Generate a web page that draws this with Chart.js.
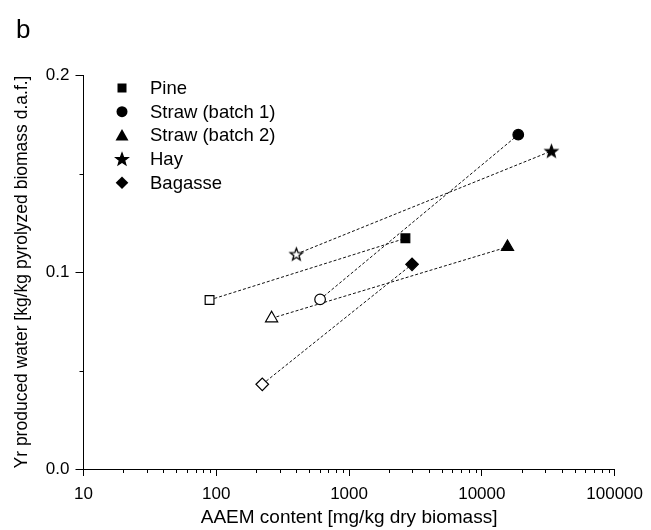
<!DOCTYPE html>
<html><head><meta charset="utf-8">
<script src="https://cdn.jsdelivr.net/npm/chart.js@4/dist/chart.umd.min.js"></script>
<style>html,body{margin:0;padding:0;background:#fff}#wrap{width:651px;height:530px}</style>
</head><body><div id="wrap"><canvas id="c" width="651" height="530"></canvas></div>
<script>
// ---- data ----
const materials = ['Pine', 'Straw (batch 1)', 'Straw (batch 2)', 'Hay', 'Bagasse'];
// open symbols (low AAEM)
const xOpen   = [89, 605, 261, 401, 222];
const yOpen   = [0.0858, 0.0861, 0.0765, 0.1091, 0.0430];
// filled symbols (high AAEM)
const xFilled = [2656, 18800, 15600, 33400, 2980];
const yFilled = [0.1171, 0.1697, 0.1127, 0.1614, 0.1039];
const xTickValues = [10, 100, 1000, 10000, 100000];
const xMinorValues = [20,30,40,50,60,70,80,90,200,300,400,500,600,700,800,900,2000,3000,4000,5000,6000,7000,8000,9000,20000,30000,40000,50000,60000,70000,80000,90000];
const yTickValues = [0, 0.1, 0.2];
const yMinorValues = [0.05, 0.15];

const FONT = "'Liberation Sans', Arial, Helvetica, sans-serif";

function starCanvas(filled, R) {
  const size = Math.ceil(R * 2 + 4);
  const c = document.createElement('canvas');
  c.width = size; c.height = size;
  const g = c.getContext('2d');
  drawStar(g, size / 2, size / 2 + 0.6, R, filled);
  return c;
}
function drawStar(g, cx, cy, R, filled) {
  const r = R * 0.42;
  g.beginPath();
  for (let i = 0; i < 10; i++) {
    const a = -Math.PI / 2 + i * Math.PI / 5;
    const rr = i % 2 ? r : R;
    g.lineTo(cx + rr * Math.cos(a), cy + rr * Math.sin(a));
  }
  g.closePath();
  g.fillStyle = filled ? '#000' : '#fff';
  g.fill();
  g.lineWidth = 1.3; g.strokeStyle = '#000';
  g.stroke();
}
const starOpen = starCanvas(false, 6.5);
const starFilled = starCanvas(true, 6.5);

const styles = ['rect', 'circle', 'triangle', null, 'rectRot'];
const radii = [6.2, 5.3, 7, 6.5, 6.3];

const datasets = materials.map((m, i) => ({
  label: m,
  data: [{x: xOpen[i], y: yOpen[i]}, {x: xFilled[i], y: yFilled[i]}],
  showLine: true,
  borderColor: '#111',
  borderWidth: 1,
  borderDash: [3, 2],
  pointStyle: i === 3 ? [starOpen, starFilled] : styles[i],
  pointRadius: radii[i],
  pointHoverRadius: radii[i],
  pointBackgroundColor: ['#fff', '#000'],
  pointBorderColor: '#000',
  pointBorderWidth: 1.2
}));

const extras = {
  id: 'extras',
  afterDraw(chart) {
    const ctx = chart.ctx;
    const xs = chart.scales.x, ys = chart.scales.y;
    const area = chart.chartArea;
    ctx.save();
    ctx.strokeStyle = '#000';
    ctx.lineWidth = 1;
    ctx.beginPath();
    xMinorValues.forEach(v => {
      const px = Math.round(xs.getPixelForValue(v)) + 0.5;
      ctx.moveTo(px, area.bottom);
      ctx.lineTo(px, area.bottom + 4);
    });
    yMinorValues.forEach(v => {
      const py = Math.round(ys.getPixelForValue(v)) + 0.5;
      ctx.moveTo(area.left - 4, py);
      ctx.lineTo(area.left, py);
    });
    ctx.stroke();

    // panel letter
    ctx.fillStyle = '#000';
    ctx.font = '26px ' + FONT;
    ctx.textBaseline = 'alphabetic';
    ctx.textAlign = 'left';
    ctx.fillText('b', 16, 38);

    // legend
    ctx.font = '18.5px ' + FONT;
    ctx.textBaseline = 'middle';
    const lx = 122, tx = 150;
    materials.forEach((m, i) => {
      const y = 88 + i * 23.7;
      ctx.fillStyle = '#000';
      ctx.beginPath();
      if (i === 0) {
        ctx.rect(lx - 4.5, y - 4.5, 9, 9);
        ctx.fill();
      } else if (i === 1) {
        ctx.arc(lx, y, 5.5, 0, Math.PI * 2);
        ctx.fill();
      } else if (i === 2) {
        ctx.moveTo(lx, y - 6.5); ctx.lineTo(lx + 6.5, y + 5); ctx.lineTo(lx - 6.5, y + 5); ctx.closePath();
        ctx.fill();
      } else if (i === 3) {
        drawStar(ctx, lx, y + 0.5, 6.5, true);
      } else {
        ctx.moveTo(lx, y - 6.3); ctx.lineTo(lx + 6.3, y); ctx.lineTo(lx, y + 6.3); ctx.lineTo(lx - 6.3, y); ctx.closePath();
        ctx.fill();
      }
      ctx.fillStyle = '#000';
      ctx.fillText(m, tx, y + 1);
    });
    ctx.restore();
  }
};

new Chart(document.getElementById('c'), {
  type: 'scatter',
  data: { datasets },
  options: {
    responsive: false,
    animation: false,
    devicePixelRatio: 1,
    layout: { padding: { top: 75, right: 31.5, left: 0, bottom: 0 } },
    plugins: { legend: { display: false }, tooltip: { enabled: false } },
    scales: {
      x: {
        type: 'logarithmic', min: 10, max: 100000, position: 'bottom',
        afterBuildTicks: s => { s.ticks = xTickValues.map(v => ({ value: v, major: true })); },
        afterFit: s => { s.height = 61; },
        grid: { display: true, drawOnChartArea: false, drawTicks: true, tickLength: 7, color: '#000', tickColor: '#000', lineWidth: 1 },
        border: { display: true, color: '#000', width: 1 },
        ticks: { color: '#000', font: { family: FONT, size: 17 }, padding: 8, maxRotation: 0, autoSkip: false, callback: v => String(v) },
        title: { display: true, text: 'AAEM content [mg/kg dry biomass]', color: '#000', font: { family: FONT, size: 19, lineHeight: 1 }, padding: { top: 0, bottom: 3 } }
      },
      y: {
        min: 0, max: 0.2,
        afterBuildTicks: s => { s.ticks = yTickValues.map(v => ({ value: v })); },
        afterFit: s => { s.width = 83.5; },
        grid: { display: true, drawOnChartArea: false, drawTicks: true, tickLength: 8, color: '#000', tickColor: '#000', lineWidth: 1 },
        border: { display: true, color: '#000', width: 1 },
        ticks: { color: '#000', font: { family: FONT, size: 17 }, padding: 6, callback: v => Number(v).toFixed(1) },
        title: { display: true, text: 'Yr produced water [kg/kg pyrolyzed biomass d.a.f.]', color: '#000', font: { family: FONT, size: 17.5, lineHeight: 1 }, padding: { top: 13, bottom: 0 } }
      }
    }
  },
  plugins: [extras]
});
</script>
</body></html>
